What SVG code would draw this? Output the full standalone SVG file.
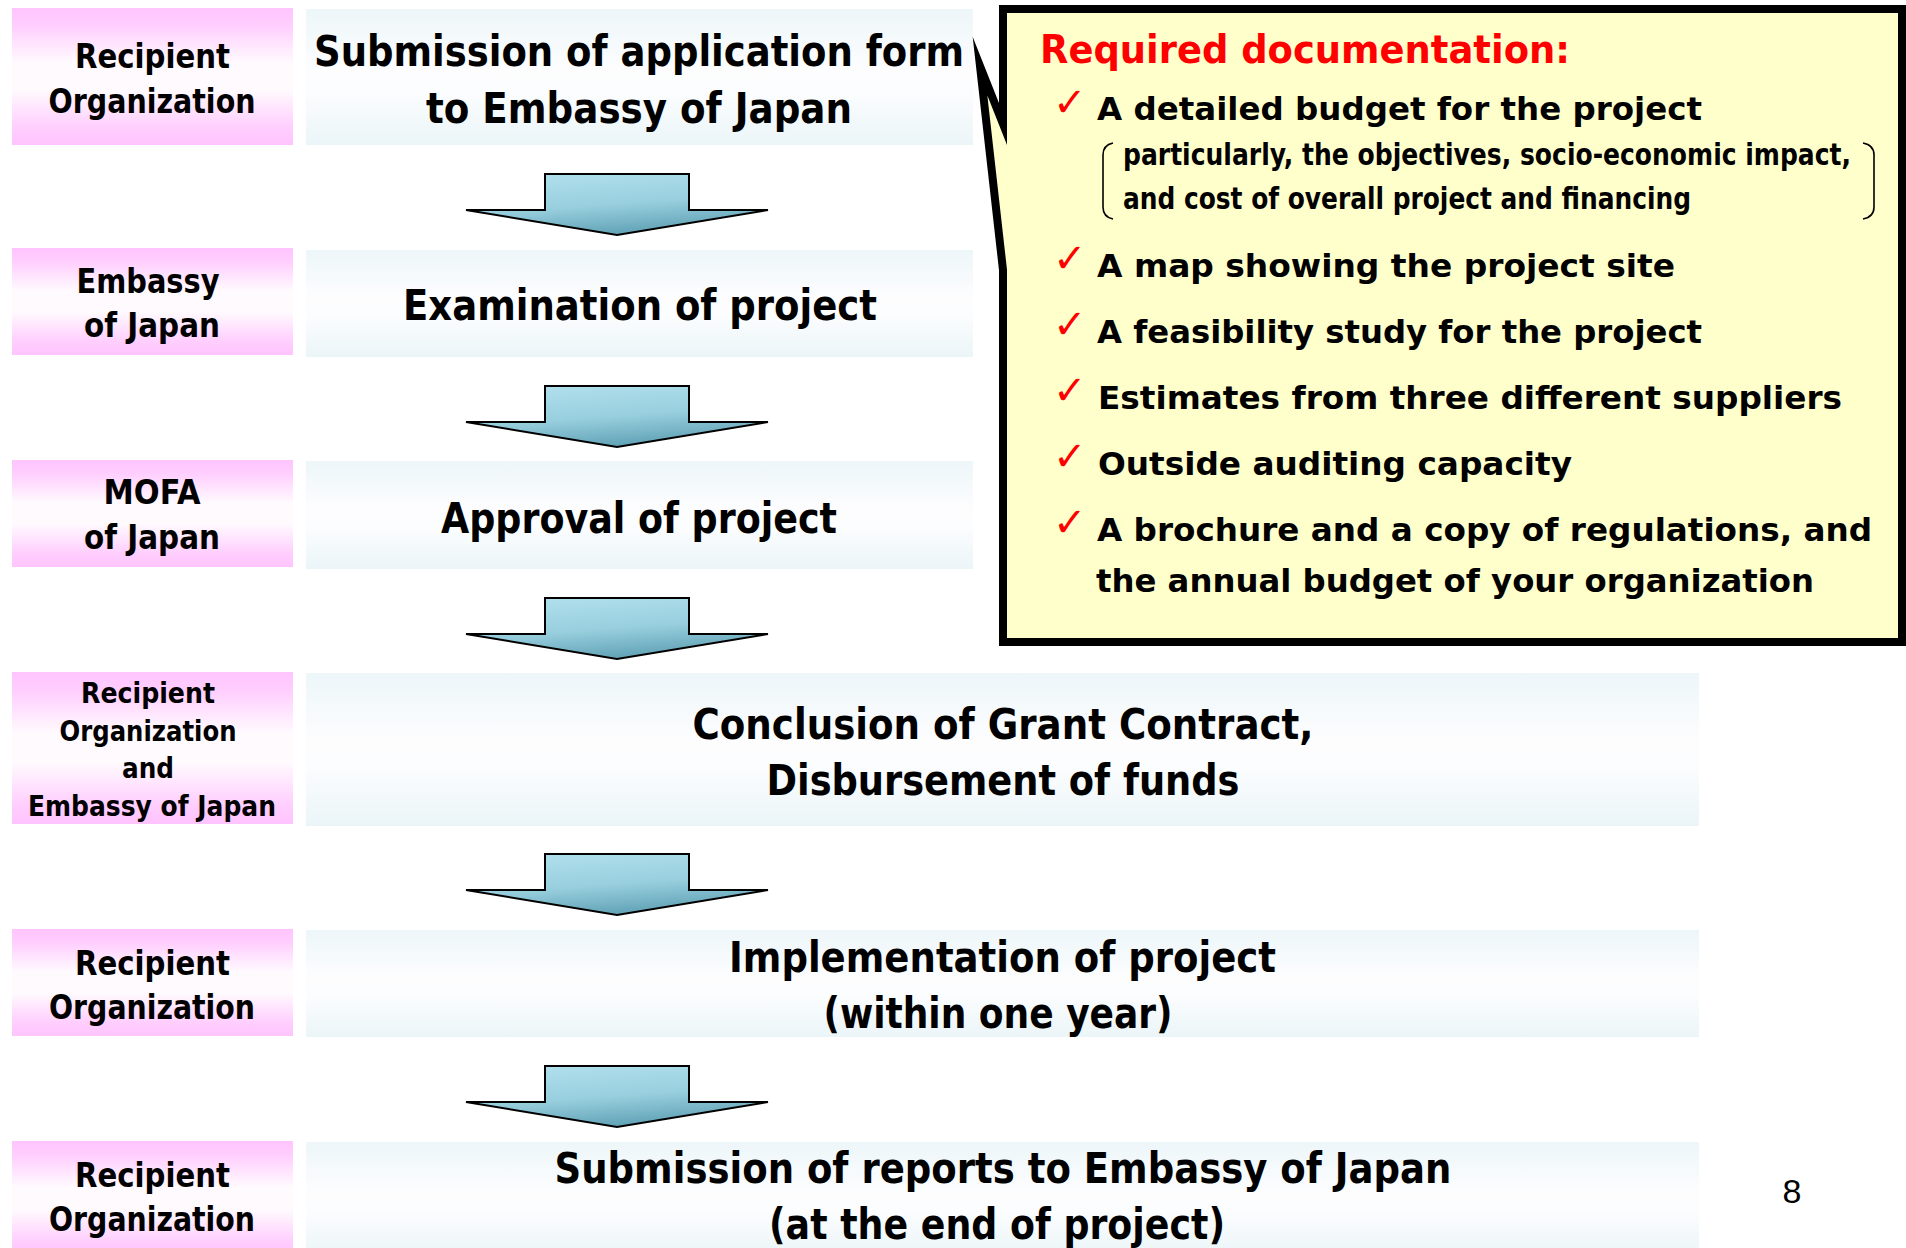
<svg xmlns="http://www.w3.org/2000/svg" width="1906" height="1248" viewBox="0 0 1906 1248">
<defs>
<linearGradient id="pinkG" x1="0" y1="0" x2="0" y2="1">
<stop offset="0" stop-color="#ffc4fe"/>
<stop offset="0.12" stop-color="#ffcdfe"/>
<stop offset="0.4" stop-color="#fffafe"/>
<stop offset="0.6" stop-color="#fffafe"/>
<stop offset="0.88" stop-color="#ffcdfe"/>
<stop offset="1" stop-color="#ffc4fe"/>
</linearGradient>
<linearGradient id="blueG" x1="0" y1="0" x2="0" y2="1">
<stop offset="0" stop-color="#edf6f9"/>
<stop offset="0.45" stop-color="#fdfdfe"/>
<stop offset="0.6" stop-color="#fcfdfe"/>
<stop offset="1" stop-color="#ebf5f8"/>
</linearGradient>
<linearGradient id="arrowG" x1="0.3" y1="0" x2="0.65" y2="1">
<stop offset="0" stop-color="#b0dfec"/>
<stop offset="0.5" stop-color="#98cfde"/>
<stop offset="1" stop-color="#5a9db1"/>
</linearGradient>
<path id="arrow" d="M545,0 H689 V36 H768 L617,61 L466,36 H545 Z"/>
<style>
.lab{fill:url(#pinkG)}
.box{fill:url(#blueG)}
.t{font-family:"DejaVu Sans","Liberation Sans",sans-serif;font-weight:bold;fill:#000}
.tl{font-size:33px;text-anchor:middle}
.ts{font-size:29px;text-anchor:middle}
.tm{font-size:42px;text-anchor:middle}
.ti{font-size:32px}
.tsub{font-family:"Liberation Sans Narrow","DejaVu Sans Condensed","Liberation Sans",sans-serif;font-weight:bold;font-size:30px;fill:#000}
.hd{font-size:39px;fill:#ff0000}
.ck{font-family:"DejaVu Sans",sans-serif;font-size:40px;fill:#ff0000}
.arr{fill:url(#arrowG);stroke:#000;stroke-width:2;stroke-linejoin:miter}
.pg{font-family:"Liberation Sans",Arial,sans-serif;font-size:34px;fill:#000;text-anchor:middle}
</style>
</defs>
<rect width="1906" height="1248" fill="#ffffff"/>

<g id="step1">
<rect class="lab" x="12" y="8" width="281" height="137"/>
<rect class="box" x="306" y="9" width="667" height="136"/>
<text class="t tl" x="152.5" y="68" textLength="155" lengthAdjust="spacingAndGlyphs">Recipient</text>
<text class="t tl" x="152" y="113" textLength="207" lengthAdjust="spacingAndGlyphs">Organization</text>
<text class="t tm" x="639" y="66" textLength="650" lengthAdjust="spacingAndGlyphs">Submission of application form</text>
<text class="t tm" x="639" y="123" textLength="426" lengthAdjust="spacingAndGlyphs">to Embassy of Japan</text>
</g>

<g id="step2">
<rect class="lab" x="12" y="248" width="281" height="107"/>
<rect class="box" x="306" y="250" width="667" height="107"/>
<text class="t tl" x="148" y="293" textLength="143" lengthAdjust="spacingAndGlyphs">Embassy</text>
<text class="t tl" x="152" y="337" textLength="136" lengthAdjust="spacingAndGlyphs">of Japan</text>
<text class="t tm" x="640" y="320" textLength="474" lengthAdjust="spacingAndGlyphs">Examination of project</text>
</g>

<g id="step3">
<rect class="lab" x="12" y="460" width="281" height="107"/>
<rect class="box" x="306" y="461" width="667" height="108"/>
<text class="t tl" x="152" y="504" textLength="97" lengthAdjust="spacingAndGlyphs">MOFA</text>
<text class="t tl" x="152" y="549" textLength="136" lengthAdjust="spacingAndGlyphs">of Japan</text>
<text class="t tm" x="639" y="533" textLength="396" lengthAdjust="spacingAndGlyphs">Approval of project</text>
</g>

<g id="step4">
<rect class="lab" x="12" y="672" width="281" height="152"/>
<rect class="box" x="306" y="673" width="1393" height="153"/>
<text class="t ts" x="148" y="703" textLength="134" lengthAdjust="spacingAndGlyphs">Recipient</text>
<text class="t ts" x="148" y="741" textLength="177" lengthAdjust="spacingAndGlyphs">Organization</text>
<text class="t ts" x="148" y="778" textLength="52" lengthAdjust="spacingAndGlyphs">and</text>
<text class="t ts" x="152" y="816" textLength="248" lengthAdjust="spacingAndGlyphs">Embassy of Japan</text>
<text class="t tm" x="1003" y="739" textLength="621" lengthAdjust="spacingAndGlyphs">Conclusion of Grant Contract,</text>
<text class="t tm" x="1003" y="795" textLength="473" lengthAdjust="spacingAndGlyphs">Disbursement of funds</text>
</g>

<g id="step5">
<rect class="lab" x="12" y="929" width="281" height="107"/>
<rect class="box" x="306" y="930" width="1393" height="107"/>
<text class="t tl" x="152.5" y="975" textLength="155" lengthAdjust="spacingAndGlyphs">Recipient</text>
<text class="t tl" x="152" y="1019" textLength="206" lengthAdjust="spacingAndGlyphs">Organization</text>
<text class="t tm" x="1002.5" y="972" textLength="547" lengthAdjust="spacingAndGlyphs">Implementation of project</text>
<text class="t tm" x="998" y="1028" textLength="349" lengthAdjust="spacingAndGlyphs">(within one year)</text>
</g>

<g id="step6">
<rect class="lab" x="12" y="1141" width="281" height="115"/>
<rect class="box" x="306" y="1142" width="1393" height="114"/>
<text class="t tl" x="152.5" y="1187" textLength="155" lengthAdjust="spacingAndGlyphs">Recipient</text>
<text class="t tl" x="152" y="1231" textLength="206" lengthAdjust="spacingAndGlyphs">Organization</text>
<text class="t tm" x="1003" y="1183" textLength="897" lengthAdjust="spacingAndGlyphs">Submission of reports to Embassy of Japan</text>
<text class="t tm" x="997" y="1239" textLength="456" lengthAdjust="spacingAndGlyphs">(at the end of project)</text>
</g>

<g id="connectors">
<use href="#arrow" class="arr" transform="translate(0,174)"/>
<use href="#arrow" class="arr" transform="translate(0,386)"/>
<use href="#arrow" class="arr" transform="translate(0,598)"/>
<use href="#arrow" class="arr" transform="translate(0,854)"/>
<use href="#arrow" class="arr" transform="translate(0,1066)"/>
</g>

<g id="callout">
<path d="M1003,9 H1902 V642 H1003 V270 L980,66 L1003,124 Z" fill="#ffffcc" stroke="#000" stroke-width="8" stroke-linejoin="miter" stroke-miterlimit="20"/>
<text class="t hd" x="1040" y="63" textLength="530" lengthAdjust="spacingAndGlyphs">Required documentation:</text>
<text class="ck" x="1053" y="116">✓</text>
<text class="t ti" x="1097" y="120" textLength="605" lengthAdjust="spacingAndGlyphs">A detailed budget for the project</text>
<path d="M1113,143 Q1103,145 1103,155 V207 Q1103,217 1113,219" fill="none" stroke="#000" stroke-width="1.6"/>
<text class="tsub" x="1123" y="165" textLength="728" lengthAdjust="spacingAndGlyphs">particularly, the objectives, socio-economic impact,</text>
<text class="tsub" x="1123" y="209" textLength="568" lengthAdjust="spacingAndGlyphs">and cost of overall project and financing</text>
<path d="M1863,143 Q1874,145 1874,155 V207 Q1874,217 1863,219" fill="none" stroke="#000" stroke-width="1.6"/>
<text class="ck" x="1053" y="272">✓</text>
<text class="t ti" x="1097" y="277" textLength="578" lengthAdjust="spacingAndGlyphs">A map showing the project site</text>
<text class="ck" x="1053" y="338">✓</text>
<text class="t ti" x="1097" y="343" textLength="605" lengthAdjust="spacingAndGlyphs">A feasibility study for the project</text>
<text class="ck" x="1053" y="404">✓</text>
<text class="t ti" x="1098" y="409" textLength="744" lengthAdjust="spacingAndGlyphs">Estimates from three different suppliers</text>
<text class="ck" x="1053" y="470">✓</text>
<text class="t ti" x="1098" y="475" textLength="474" lengthAdjust="spacingAndGlyphs">Outside auditing capacity</text>
<text class="ck" x="1053" y="536">✓</text>
<text class="t ti" x="1097" y="541" textLength="775" lengthAdjust="spacingAndGlyphs">A brochure and a copy of regulations, and</text>
<text class="t ti" x="1096" y="592" textLength="718" lengthAdjust="spacingAndGlyphs">the annual budget of your organization</text>
</g>

<text class="pg" x="1792" y="1203">8</text>
</svg>
